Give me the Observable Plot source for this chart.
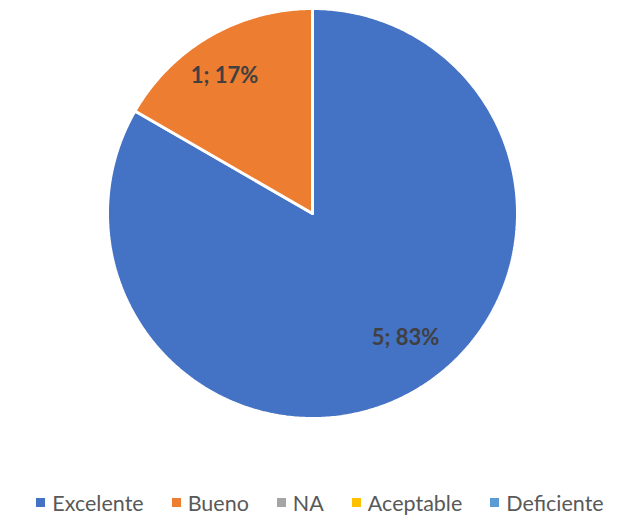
<!DOCTYPE html>
<html>
<head>
<meta charset="utf-8">
<script src="https://cdn.jsdelivr.net/npm/d3@7"></script>
<script src="https://cdn.jsdelivr.net/npm/@observablehq/plot@0.6"></script>
<style>
  body { margin: 0; background: #fff; font-family: Lato, "Open Sans", sans-serif; }
  #chart { width: 618px; }
  .legend { display: flex; justify-content: center; align-items: center; height: 29px; padding-left: 22px; box-sizing: border-box; font-size: 21.5px; color: #595959; line-height: 24px; white-space: nowrap; }
  .legend .item { display: flex; align-items: center; margin: 0 14px; }
  .legend .sw { width: 9px; height: 9px; margin-right: 7px; }
</style>
</head>
<body>
<div id="chart"></div>
<script>
const categories = ["Excelente", "Bueno", "NA", "Aceptable", "Deficiente"];
const values = [5, 1, 0, 0, 0];
const colors = ["#4472C4", "#ED7D31", "#A5A5A5", "#FFC000", "#5B9BD5"];

const W = 618, H = 488;
const cx = 312, cy = 213, R = 205;

const total = d3.sum(values);
const arcs = d3.pie().sort(null).value(d => d)(values);

// Polygon points for each slice
const pts = [];
arcs.forEach((a, i) => {
  if (a.endAngle - a.startAngle <= 0) return;
  const cat = categories[i];
  pts.push({cat, x: cx, y: cy});
  const n = Math.max(2, Math.ceil((a.endAngle - a.startAngle) / 0.01));
  for (let k = 0; k <= n; k++) {
    const t = a.startAngle + (a.endAngle - a.startAngle) * k / n;
    pts.push({cat, x: cx + R * Math.sin(t), y: cy - R * Math.cos(t)});
  }
  pts.push({cat, x: cx, y: cy});
});

const labels = arcs.filter(a => a.value > 0).map(a => {
  const i = a.index;
  const mid = (a.startAngle + a.endAngle) / 2;
  const lr = R * 0.8;
  return {
    text: `${values[i]}; ${Math.round(values[i] / total * 100)}%`,
    x: cx + lr * Math.sin(mid),
    y: cy - lr * Math.cos(mid),
    cat: categories[i]
  };
});

const plot = Plot.plot({
  width: W, height: H,
  margin: 0,
  x: {domain: [0, W], range: [0, W], axis: null},
  y: {domain: [0, H], range: [0, H], axis: null},
  color: {domain: categories, range: colors},
  style: {background: "#fff"},
  marks: [
    Plot.line(pts, {x: "x", y: "y", z: "cat", fill: "cat", stroke: "#fff", strokeWidth: 3, strokeLinejoin: "miter", curve: "linear"}),
    Plot.text(labels.filter(d => d.cat === "Bueno"), {x: "x", y: "y", text: "text", dx: -6, dy: 4, fill: "#404040", fontSize: 22, fontWeight: "bold", fontFamily: "Lato"}),
    Plot.text(labels.filter(d => d.cat === "Excelente"), {x: "x", y: "y", text: "text", dx: 11, dy: -18, fill: "#404040", fontSize: 22, fontWeight: "bold", fontFamily: "Lato"})
  ]
});
document.getElementById("chart").appendChild(plot);

const legend = document.createElement("div");
legend.className = "legend";
categories.forEach((c, i) => {
  const it = document.createElement("div");
  it.className = "item";
  const sw = document.createElement("span");
  sw.className = "sw";
  sw.style.background = colors[i];
  const tx = document.createElement("span");
  tx.textContent = c;
  it.appendChild(sw); it.appendChild(tx);
  legend.appendChild(it);
});
document.getElementById("chart").appendChild(legend);
</script>
</body>
</html>
